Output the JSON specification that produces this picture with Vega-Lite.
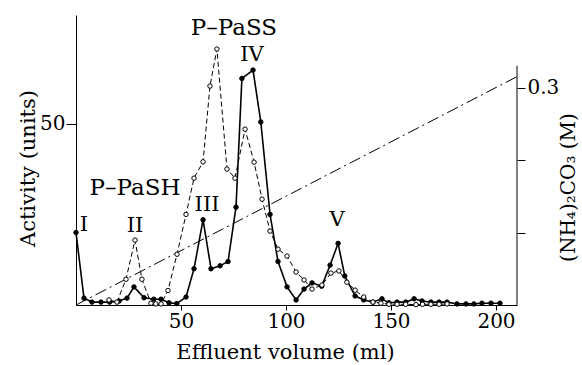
{
  "$schema": "https://vega.github.io/schema/vega-lite/v6.json",
  "width": 441,
  "height": 290,
  "autosize": {"type": "none"},
  "padding": {"left": 76, "top": 15, "right": 65, "bottom": 60},
  "background": "white",
  "config": {
    "font": "DejaVu Serif",
    "view": {"stroke": null},
    "axis": {
      "grid": false,
      "domainColor": "black",
      "tickColor": "black",
      "labelColor": "black",
      "titleColor": "black",
      "titleFontWeight": "normal",
      "labelFont": "DejaVu Serif",
      "titleFont": "DejaVu Serif"
    }
  },
  "datasets": {
    "gradient": [
      {"vol": 0, "conc": 0},
      {"vol": 210, "conc": 0.315}
    ],
    "activity": [
      {"series": "filled", "vol": 0, "act": 20},
      {"series": "filled", "vol": 3.8, "act": 1.9},
      {"series": "filled", "vol": 7.6, "act": 0.8},
      {"series": "filled", "vol": 11.9, "act": 0.8},
      {"series": "filled", "vol": 16, "act": 0.8},
      {"series": "filled", "vol": 20.5, "act": 1.1},
      {"series": "filled", "vol": 24.3, "act": 1.9},
      {"series": "filled", "vol": 27.6, "act": 5},
      {"series": "filled", "vol": 32.4, "act": 2},
      {"series": "filled", "vol": 37, "act": 1.6},
      {"series": "filled", "vol": 40.5, "act": 1.6},
      {"series": "filled", "vol": 44.3, "act": 0.6},
      {"series": "filled", "vol": 48, "act": 0.4},
      {"series": "filled", "vol": 52.4, "act": 2.2},
      {"series": "filled", "vol": 56.2, "act": 10},
      {"series": "filled", "vol": 60.5, "act": 23.5},
      {"series": "filled", "vol": 64.3, "act": 10},
      {"series": "filled", "vol": 68.6, "act": 10.8},
      {"series": "filled", "vol": 72.4, "act": 12},
      {"series": "filled", "vol": 76.2, "act": 27},
      {"series": "filled", "vol": 79, "act": 62.5},
      {"series": "filled", "vol": 84.3, "act": 64.8},
      {"series": "filled", "vol": 88, "act": 50.5},
      {"series": "filled", "vol": 92.4, "act": 25},
      {"series": "filled", "vol": 96.2, "act": 12},
      {"series": "filled", "vol": 100.5, "act": 5},
      {"series": "filled", "vol": 104.8, "act": 1.4},
      {"series": "filled", "vol": 108.6, "act": 4.4},
      {"series": "filled", "vol": 112.4, "act": 6.1},
      {"series": "filled", "vol": 117, "act": 5.2},
      {"series": "filled", "vol": 121, "act": 11},
      {"series": "filled", "vol": 124.8, "act": 17},
      {"series": "filled", "vol": 128, "act": 8},
      {"series": "filled", "vol": 132.9, "act": 2.5},
      {"series": "filled", "vol": 137, "act": 1.4},
      {"series": "filled", "vol": 141.4, "act": 0.8},
      {"series": "filled", "vol": 145.7, "act": 1.7},
      {"series": "filled", "vol": 149, "act": 0.6},
      {"series": "filled", "vol": 152.9, "act": 0.8},
      {"series": "filled", "vol": 157, "act": 0.8},
      {"series": "filled", "vol": 161, "act": 1.7},
      {"series": "filled", "vol": 164.8, "act": 1.1},
      {"series": "filled", "vol": 169, "act": 0.8},
      {"series": "filled", "vol": 172.9, "act": 0.8},
      {"series": "filled", "vol": 176.7, "act": 0.8},
      {"series": "filled", "vol": 181.4, "act": 0.3},
      {"series": "filled", "vol": 185.7, "act": 0.3},
      {"series": "filled", "vol": 189.5, "act": 0.3},
      {"series": "filled", "vol": 193.3, "act": 0.5},
      {"series": "filled", "vol": 197.6, "act": 0.5},
      {"series": "filled", "vol": 201.9, "act": 0.5},
      {"series": "open", "vol": 15.7, "act": 1.4},
      {"series": "open", "vol": 19.5, "act": 0.8},
      {"series": "open", "vol": 23.8, "act": 7.1},
      {"series": "open", "vol": 28.1, "act": 17.9},
      {"series": "open", "vol": 31.4, "act": 7.1},
      {"series": "open", "vol": 35.7, "act": 0.5},
      {"series": "open", "vol": 38, "act": 0.3},
      {"series": "open", "vol": 40.5, "act": 0.3},
      {"series": "open", "vol": 43.8, "act": 4},
      {"series": "open", "vol": 48.1, "act": 14},
      {"series": "open", "vol": 52.4, "act": 25},
      {"series": "open", "vol": 56.2, "act": 35},
      {"series": "open", "vol": 60.5, "act": 39.5},
      {"series": "open", "vol": 63.8, "act": 60.4},
      {"series": "open", "vol": 67.1, "act": 70.6},
      {"series": "open", "vol": 71.9, "act": 37.5},
      {"series": "open", "vol": 75.7, "act": 35},
      {"series": "open", "vol": 80.5, "act": 48.5},
      {"series": "open", "vol": 84.8, "act": 39.4},
      {"series": "open", "vol": 88.6, "act": 29.2},
      {"series": "open", "vol": 92.4, "act": 20.4},
      {"series": "open", "vol": 96.2, "act": 15.4},
      {"series": "open", "vol": 100.5, "act": 13.5},
      {"series": "open", "vol": 104.8, "act": 9.1},
      {"series": "open", "vol": 108.6, "act": 6.9},
      {"series": "open", "vol": 112.4, "act": 4.4},
      {"series": "open", "vol": 117.1, "act": 5.5},
      {"series": "open", "vol": 121.4, "act": 8.8},
      {"series": "open", "vol": 125.2, "act": 9.4},
      {"series": "open", "vol": 129, "act": 6.3},
      {"series": "open", "vol": 132.9, "act": 4.1},
      {"series": "open", "vol": 137, "act": 2.2},
      {"series": "open", "vol": 141.4, "act": 0.8},
      {"series": "open", "vol": 145.2, "act": 0.5},
      {"series": "open", "vol": 149, "act": 0.2},
      {"series": "open", "vol": 152.9, "act": 0.2},
      {"series": "open", "vol": 157, "act": 0.2},
      {"series": "open", "vol": 161.9, "act": 0.1},
      {"series": "open", "vol": 165, "act": 0.2},
      {"series": "open", "vol": 169, "act": 0.2},
      {"series": "open", "vol": 172.9, "act": 0.2},
      {"series": "open", "vol": 176.7, "act": 0.3}
    ],
    "labels": [
      {"txt": "I", "vol": 3.8, "act": 22, "sz": "s"},
      {"txt": "II", "vol": 28.1, "act": 21.8, "sz": "s"},
      {"txt": "III", "vol": 62.4, "act": 27.6, "sz": "s"},
      {"txt": "IV", "vol": 83.8, "act": 69, "sz": "s"},
      {"txt": "V", "vol": 124.3, "act": 23.4, "sz": "s"},
      {"txt": "P–PaSH", "vol": 28.1, "act": 32.3, "sz": "l"},
      {"txt": "P–PaSS", "vol": 75.2, "act": 76.4, "sz": "l"}
    ]
  },
  "layer": [
    {
      "layer": [
        {
          "data": {"name": "gradient"},
          "mark": {"type": "line", "color": "black", "strokeWidth": 1, "strokeDash": [12, 4, 2, 4]},
          "encoding": {
            "x": {"field": "vol", "type": "quantitative", "scale": {"domain": [0, 210], "nice": false},
              "axis": {"values": [50, 100, 150, 200], "tickSize": 5, "labelFontSize": 20, "labelPadding": 1, "title": "Effluent volume (ml)", "titleFontSize": 21, "titleX": 209, "titleY": 47, "titleBaseline": "middle", "titleAnchor": null}},
            "y": {"field": "conc", "type": "quantitative", "scale": {"domain": [0, 0.4], "nice": false},
              "axis": {"orient": "right", "values": [0.1, 0.2, 0.3], "labelExpr": "datum.value == 0.3 ? '0.3' : ''", "domain": false, "tickSize": 8, "labelFontSize": 20, "labelPadding": 2, "title": "(NH₄)₂CO₃ (M)", "titleAngle": 270, "titleFontSize": 20, "titleX": 51, "titleY": 172, "titleBaseline": "middle"}}
          }
        },
        {
          "data": {"values": [{}]},
          "mark": {"type": "rule", "color": "black", "strokeWidth": 1},
          "encoding": {
            "x": {"datum": 210, "type": "quantitative"},
            "y": {"datum": 0, "type": "quantitative"},
            "y2": {"datum": 0.33}
          }
        }
      ]
    },
    {
      "layer": [
        {
          "data": {"name": "activity"},
          "mark": {"type": "line", "color": "black"},
          "encoding": {
            "x": {"field": "vol", "type": "quantitative", "scale": {"domain": [0, 210], "nice": false},
              "axis": {"values": [50, 100, 150, 200], "tickSize": 5, "labelFontSize": 20, "labelPadding": 1, "title": "Effluent volume (ml)", "titleFontSize": 21, "titleX": 209, "titleY": 47, "titleBaseline": "middle", "titleAnchor": null}},
            "y": {"field": "act", "type": "quantitative", "scale": {"domain": [0, 80], "nice": false},
              "axis": {"orient": "left", "values": [50], "tickSize": 10, "labelFontSize": 20, "labelPadding": 1, "title": "Activity (units)", "titleFontSize": 21, "titleX": -48, "titleY": 153, "titleBaseline": "middle"}},
            "detail": {"field": "series"},
            "strokeDash": {"field": "series", "type": "nominal", "scale": {"domain": ["filled", "open"], "range": [[1, 0], [5, 3]]}, "legend": null},
            "strokeWidth": {"field": "series", "type": "nominal", "scale": {"domain": ["filled", "open"], "range": [1.6, 1]}, "legend": null}
          }
        },
        {
          "data": {"name": "activity"},
          "mark": {"type": "point", "shape": "circle", "filled": false, "stroke": "black", "strokeWidth": 1, "opacity": 1},
          "encoding": {
            "x": {"field": "vol", "type": "quantitative", "scale": {"domain": [0, 210], "nice": false}},
            "y": {"field": "act", "type": "quantitative", "scale": {"domain": [0, 80], "nice": false}},
            "fill": {"field": "series", "type": "nominal", "scale": {"domain": ["filled", "open"], "range": ["black", "white"]}, "legend": null},
            "size": {"value": 20}
          }
        },
        {
          "data": {"name": "labels"},
          "mark": {"type": "text", "color": "black", "align": "center", "baseline": "middle", "font": "DejaVu Serif"},
          "encoding": {
            "x": {"field": "vol", "type": "quantitative", "scale": {"domain": [0, 210], "nice": false}},
            "y": {"field": "act", "type": "quantitative", "scale": {"domain": [0, 80], "nice": false}},
            "text": {"field": "txt"},
            "size": {"field": "sz", "type": "nominal", "scale": {"domain": ["s", "l"], "range": [21, 23]}, "legend": null}
          }
        }
      ]
    }
  ],
  "resolve": {"scale": {"y": "independent"}}
}
